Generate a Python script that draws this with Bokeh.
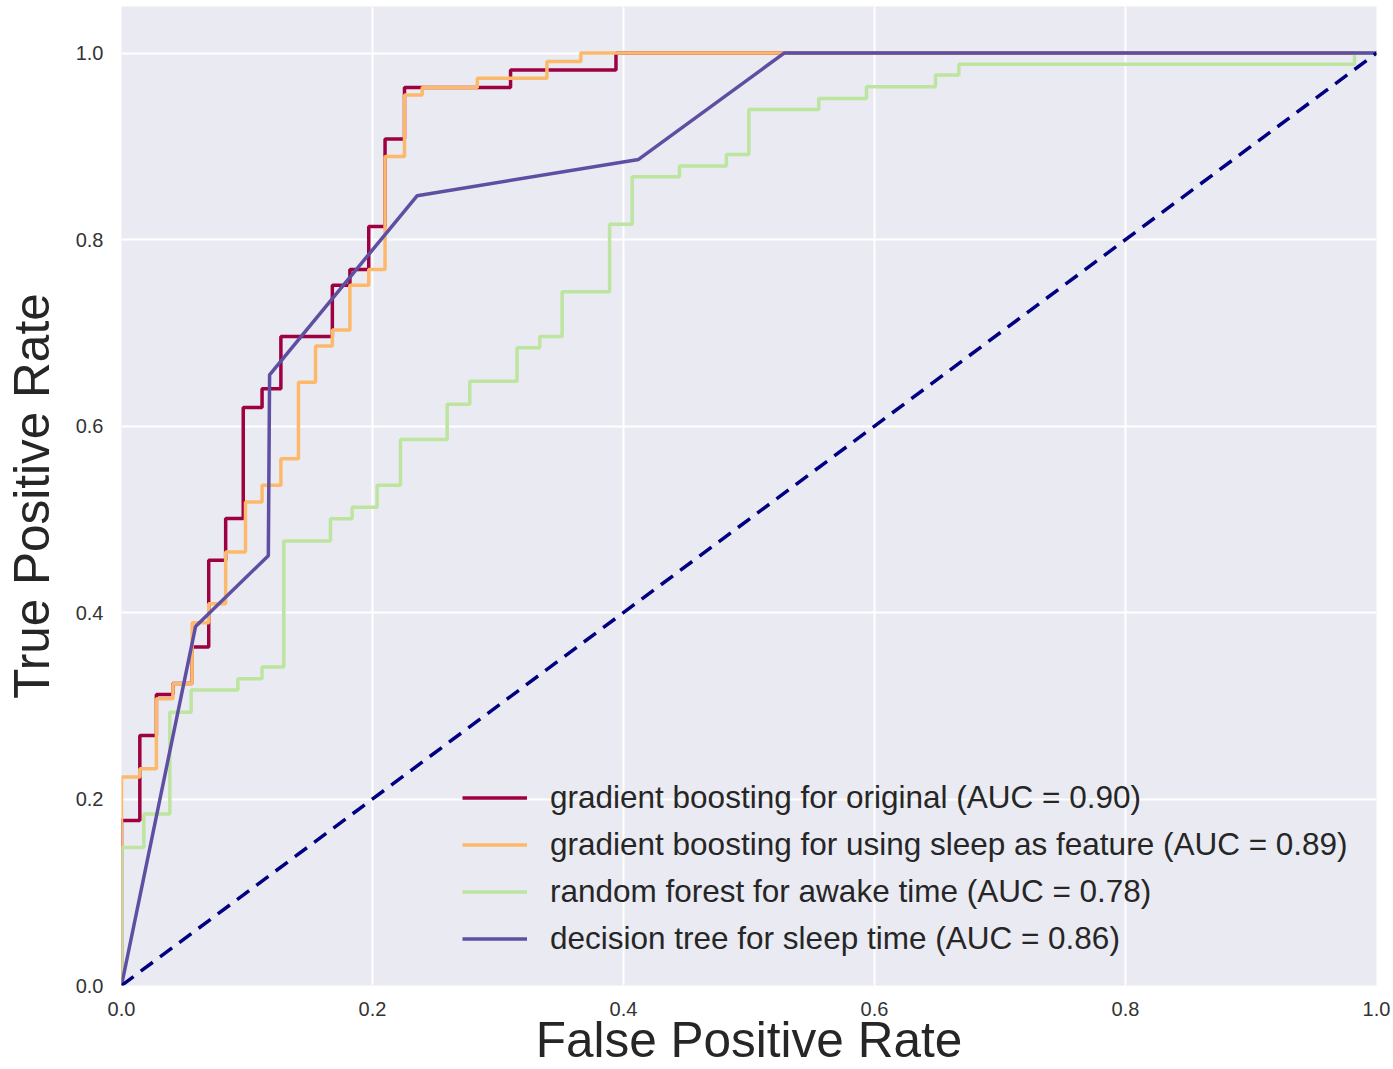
from bokeh.plotting import figure
from bokeh.models import Range1d, Legend, LegendItem, FixedTicker, PrintfTickFormatter
from bokeh.embed import file_html
from bokeh.resources import INLINE

# ROC curve points (false positive rate, true positive rate)
gb_orig_fpr = [0, 0, 0.0146, 0.0146, 0.0278, 0.0278, 0.041, 0.041, 0.0563, 0.0563,
               0.0695, 0.0695, 0.083, 0.083, 0.097, 0.097, 0.112, 0.112, 0.127, 0.127,
               0.168, 0.168, 0.182, 0.182, 0.197, 0.197, 0.210, 0.210, 0.2255, 0.2255,
               0.310, 0.310, 0.394, 0.394, 1.0]
gb_orig_tpr = [0, 0.177, 0.177, 0.268, 0.268, 0.312, 0.312, 0.324, 0.324, 0.363,
               0.363, 0.456, 0.456, 0.501, 0.501, 0.620, 0.620, 0.640, 0.640, 0.696,
               0.696, 0.751, 0.751, 0.768, 0.768, 0.814, 0.814, 0.908, 0.908, 0.963,
               0.963, 0.982, 0.982, 1.0, 1.0]

gb_sleep_fpr = [0, 0, 0.0146, 0.0146, 0.0278, 0.0278, 0.041, 0.041, 0.0563, 0.0563,
                0.0695, 0.0695, 0.083, 0.083, 0.0988, 0.0988, 0.112, 0.112, 0.127, 0.127,
                0.141, 0.141, 0.1546, 0.1546, 0.168, 0.168, 0.182, 0.182, 0.197, 0.197,
                0.210, 0.210, 0.2255, 0.2255, 0.2396, 0.2396, 0.2835, 0.2835, 0.339, 0.339,
                0.366, 0.366, 1.0]
gb_sleep_tpr = [0, 0.2235, 0.2235, 0.2325, 0.2325, 0.3076, 0.3076, 0.3237, 0.3237, 0.389,
                0.389, 0.4095, 0.4095, 0.465, 0.465, 0.5186, 0.5186, 0.5365, 0.5365, 0.565,
                0.565, 0.647, 0.647, 0.686, 0.686, 0.703, 0.703, 0.751, 0.751, 0.768,
                0.768, 0.889, 0.889, 0.955, 0.955, 0.963, 0.963, 0.973, 0.973, 0.991,
                0.991, 1.0, 1.0]

rf_awake_fpr = [0, 0, 0.0178, 0.0178, 0.0385, 0.0385, 0.0555, 0.0555, 0.0927, 0.0927,
                0.112, 0.112, 0.1293, 0.1293, 0.1665, 0.1665, 0.1838, 0.1838, 0.2037, 0.2037,
                0.2223, 0.2223, 0.2595, 0.2595, 0.2775, 0.2775, 0.3152, 0.3152, 0.3333, 0.3333,
                0.3511, 0.3511, 0.3889, 0.3889, 0.4069, 0.4069, 0.4446, 0.4446, 0.482, 0.482,
                0.4999, 0.4999, 0.5556, 0.5556, 0.5936, 0.5936, 0.6486, 0.6486, 0.6672, 0.6672,
                0.9825, 0.9825, 1.0]
rf_awake_tpr = [0, 0.148, 0.148, 0.184, 0.184, 0.293, 0.293, 0.317, 0.317, 0.329,
                0.329, 0.3415, 0.3415, 0.4767, 0.4767, 0.5007, 0.5007, 0.513, 0.513, 0.5365,
                0.5365, 0.5855, 0.5855, 0.6234, 0.6234, 0.648, 0.648, 0.684, 0.684, 0.696,
                0.696, 0.744, 0.744, 0.8165, 0.8165, 0.8675, 0.8675, 0.8788, 0.8788, 0.8913,
                0.8913, 0.9396, 0.9396, 0.9514, 0.9514, 0.964, 0.964, 0.9764, 0.9764, 0.988,
                0.988, 1.0, 1.0]

dt_sleep_fpr = [0, 0.059, 0.117, 0.118, 0.2355, 0.412, 0.528, 1.0]
dt_sleep_tpr = [0, 0.385, 0.461, 0.655, 0.847, 0.886, 1.0, 1.0]

chance_x = [0, 1]
chance_y = [0, 1]

labels = [
    "gradient boosting for original (AUC = 0.90)",
    "gradient boosting for using sleep as feature (AUC = 0.89)",
    "random forest for awake time (AUC = 0.78)",
    "decision tree for sleep time (AUC = 0.86)",
]
colors = ["#9E0142", "#FDB96B", "#BDE5A0", "#5E4FA2"]
ticks = [0.0, 0.2, 0.4, 0.6, 0.8, 1.0]
x_title = "False Positive Rate"
y_title = "True Positive Rate"

FONT = "Liberation Sans"
TXT = "#333333"

p = figure(width=1393, height=1069, output_backend="svg", toolbar_location=None,
           x_range=Range1d(0, 1.0), y_range=Range1d(0, 1.05),
           min_border_left=121, min_border_right=17, min_border_top=6, min_border_bottom=84,
           background_fill_color="#EAEAF2", border_fill_color="white",
           outline_line_color=None)

for ax in (p.xaxis[0], p.yaxis[0]):
    ax.ticker = FixedTicker(ticks=ticks)
    ax.formatter = PrintfTickFormatter(format="%.1f")
    ax.axis_line_color = None
    ax.major_tick_line_color = None
    ax.minor_tick_line_color = None
    ax.major_label_text_font = FONT
    ax.major_label_text_font_size = "20px"
    ax.major_label_text_color = TXT
    ax.axis_label_text_font = FONT
    ax.axis_label_text_font_size = "49.5px"
    ax.axis_label_text_font_style = "normal"
    ax.axis_label_text_color = "#262626"

p.xaxis[0].axis_label = x_title
p.yaxis[0].axis_label = y_title
p.xaxis[0].major_label_standoff = 10
p.xaxis[0].axis_label_standoff = -7
p.yaxis[0].major_label_standoff = 12
p.yaxis[0].axis_label_standoff = 14

for g in (p.xgrid[0], p.ygrid[0]):
    g.ticker = FixedTicker(ticks=ticks)
    g.grid_line_color = "white"
    g.grid_line_width = 2

series = [(gb_orig_fpr, gb_orig_tpr), (gb_sleep_fpr, gb_sleep_tpr),
          (rf_awake_fpr, rf_awake_tpr), (dt_sleep_fpr, dt_sleep_tpr)]
renderers = []
for (xs, ys), c in zip(series, colors):
    r = p.line(xs, ys, line_color=c, line_width=3.5)
    renderers.append(r)

p.line(chance_x, chance_y, line_color="#000080", line_width=3.5, line_dash="15 9")

legend = Legend(items=[LegendItem(label=l, renderers=[r]) for l, r in zip(labels, renderers)],
                location=(341, 23), padding=0, margin=0, spacing=0,
                glyph_width=65, glyph_height=47, label_height=47, label_standoff=23,
                label_text_font=FONT, label_text_font_size="31.5px", label_text_color="#262626",
                background_fill_alpha=0, border_line_alpha=0)
p.add_layout(legend)

open("out.html", "w").write(file_html(p, INLINE))
